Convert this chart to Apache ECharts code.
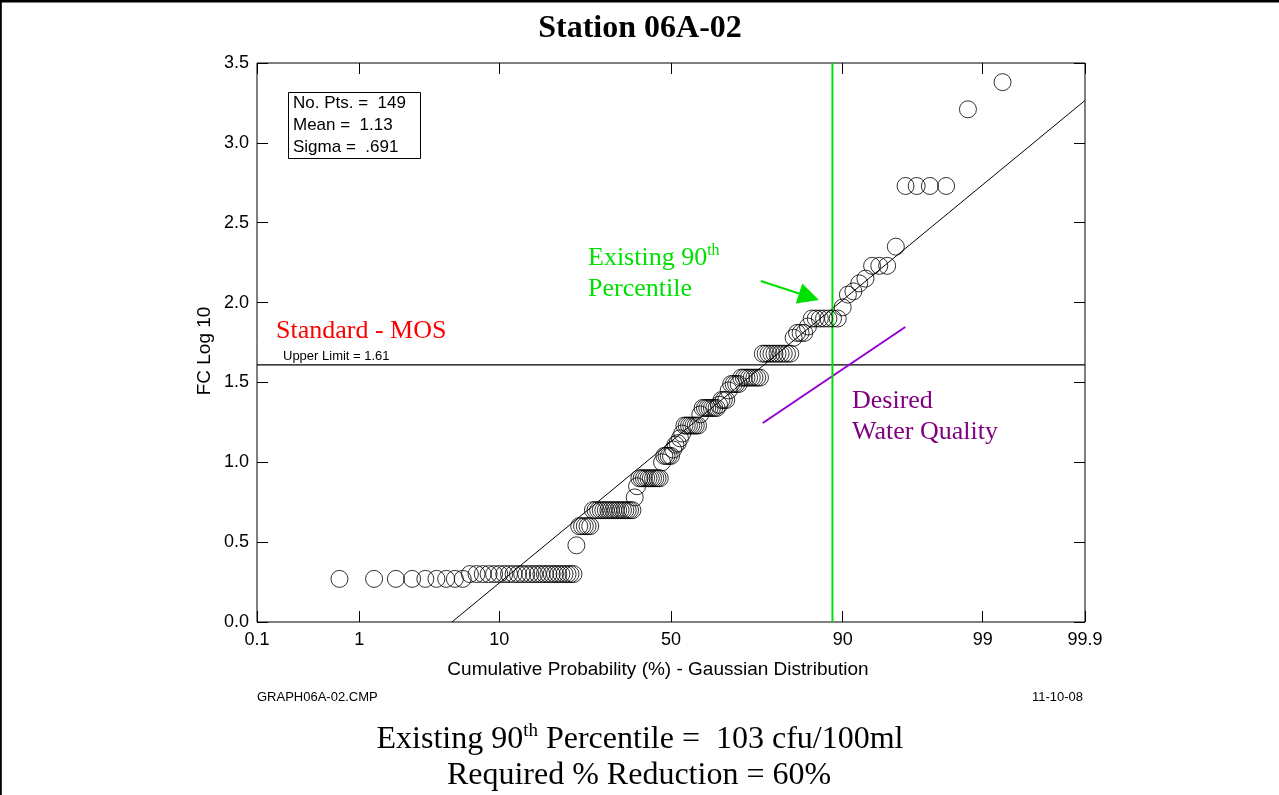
<!DOCTYPE html>
<html>
<head>
<meta charset="utf-8">
<title>Station 06A-02</title>
<script src="https://cdn.jsdelivr.net/npm/echarts/dist/echarts.min.js"></script>
<style>
  html, body { margin: 0; padding: 0; background: #fff; }
  #chart { width: 1279px; height: 795px; }
</style>
</head>
<body>
<div id="chart"></div>
<script>
// Sorted fecal coliform results (log10 cfu/100ml), Station 06A-02
const fcLog10 = [
  0.27, 0.27, 0.27, 0.27, 0.27, 0.27, 0.27, 0.27, 0.27,
  0.30, 0.30, 0.30, 0.30, 0.30, 0.30, 0.30, 0.30, 0.30, 0.30,
  0.30, 0.30, 0.30, 0.30, 0.30, 0.30, 0.30, 0.30, 0.30, 0.30,
  0.30, 0.30, 0.30, 0.30, 0.30, 0.30,
  0.48,
  0.60, 0.60, 0.60, 0.60, 0.60,
  0.70, 0.70, 0.70, 0.70, 0.70, 0.70, 0.70, 0.70, 0.70, 0.70,
  0.70, 0.70, 0.70, 0.70, 0.70, 0.70, 0.70,
  0.78, 0.85,
  0.90, 0.90, 0.90, 0.90, 0.90, 0.90, 0.90, 0.90, 0.90, 0.90,
  1.00, 1.04, 1.04, 1.04, 1.04, 1.08, 1.11, 1.12, 1.15, 1.18,
  1.23, 1.23, 1.23, 1.23, 1.23, 1.23, 1.23,
  1.30, 1.34, 1.34, 1.34, 1.34, 1.34, 1.34, 1.34, 1.36,
  1.39, 1.39, 1.39, 1.45, 1.49, 1.49, 1.49, 1.49,
  1.53, 1.53, 1.53, 1.53, 1.53, 1.53, 1.53, 1.53,
  1.68, 1.68, 1.68, 1.68, 1.68, 1.68, 1.68, 1.68, 1.68, 1.68,
  1.78, 1.81, 1.81, 1.81, 1.85,
  1.90, 1.90, 1.90, 1.90, 1.90, 1.90, 1.90,
  1.97, 2.05, 2.07, 2.12, 2.15,
  2.23, 2.23, 2.23, 2.35,
  2.73, 2.73, 2.73, 2.73,
  3.21, 3.38
];

// Probability axis ticks (cumulative %)
const probTicks = [0.1, 1, 10, 50, 90, 99, 99.9];
const probTickLabels = ['0.1', '1', '10', '50', '90', '99', '99.9'];

// Log axis range
const yMin = 0, yMax = 3.5, yStep = 0.5;

// Summary statistics and limits
const meanLog = 1.13;
const sigmaLog = 0.691;
const upperLimit = 1.61;

// Existing 90th percentile marker (standard normal units)
const existingZ = 1.205;
// Desired water quality line, [z, log10] end points
const desiredLine = [[0.685, 1.246], [1.749, 1.847]];
// Pointer to the existing percentile, [z, log10]
const arrowFrom = [0.670, 2.135];
const arrowTo = [1.030, 2.036];

// Inverse standard normal CDF (Acklam's rational approximation)
function normInv(p) {
  const a = [-3.969683028665376e+01, 2.209460984245205e+02, -2.759285104469687e+02,
             1.383577518672690e+02, -3.066479806614716e+01, 2.506628277459239e+00];
  const b = [-5.447609879822406e+01, 1.615858368580409e+02, -1.556989798598866e+02,
             6.680131188771972e+01, -1.328068155288572e+01];
  const c = [-7.784894002430293e-03, -3.223964580411365e-01, -2.400758277161838e+00,
             -2.549732539343734e+00, 4.374664141464968e+00, 2.938163982698783e+00];
  const d = [7.784695709041462e-03, 3.224671290700398e-01, 2.445134137142996e+00,
             3.754408661907416e+00];
  const pl = 0.02425, ph = 1 - pl;
  let q, r;
  if (p < pl) {
    q = Math.sqrt(-2 * Math.log(p));
    return (((((c[0]*q + c[1])*q + c[2])*q + c[3])*q + c[4])*q + c[5]) /
           ((((d[0]*q + d[1])*q + d[2])*q + d[3])*q + 1);
  }
  if (p <= ph) {
    q = p - 0.5; r = q * q;
    return (((((a[0]*r + a[1])*r + a[2])*r + a[3])*r + a[4])*r + a[5]) * q /
           (((((b[0]*r + b[1])*r + b[2])*r + b[3])*r + b[4])*r + 1);
  }
  q = Math.sqrt(-2 * Math.log(1 - p));
  return -(((((c[0]*q + c[1])*q + c[2])*q + c[3])*q + c[4])*q + c[5]) /
          ((((d[0]*q + d[1])*q + d[2])*q + d[3])*q + 1);
}

const tickZ = probTicks.map(p => (p === 50 ? 0 : normInv(p / 100)));
const zMin = tickZ[0], zMax = tickZ[tickZ.length - 1];

// Plotting positions: rank / (n + 1) on the Gaussian scale
const nPts = fcLog10.length;
const points = fcLog10.map((v, i) => [normInv((i + 1) / (nPts + 1)), v]);

// Fitted normal line: log10 = mean + sigma * z
const fitStart = -meanLog / sigmaLog;
const fitLine = [[fitStart, meanLog + sigmaLog * fitStart], [zMax, meanLog + sigmaLog * zMax]];

function probLabel(v) {
  let best = 0;
  for (let i = 1; i < tickZ.length; i++) {
    if (Math.abs(v - tickZ[i]) < Math.abs(v - tickZ[best])) best = i;
  }
  return probTickLabels[best];
}

const SANS = '"Liberation Sans", Arial, sans-serif';
const SERIF = '"Liberation Serif", "Times New Roman", serif';
const GREEN = '#00e000';
const PURPLE_LINE = '#9400d3';
const PURPLE_TEXT = '#800080';

const chart = echarts.init(document.getElementById('chart'), null, { renderer: 'canvas' });

const tickStyle = { color: '#000', width: 1 };
const hiddenLine = { show: false, onZero: false };

chart.setOption({
  animation: false,
  backgroundColor: '#fff',
  grid: {
    left: 257, top: 63, width: 828, height: 559,
    show: true, borderColor: '#000', borderWidth: 1, backgroundColor: 'transparent'
  },
  xAxis: [
    {
      type: 'value', position: 'bottom', min: zMin, max: zMax,
      axisLine: hiddenLine, splitLine: { show: false },
      axisTick: { show: true, inside: true, length: 11, customValues: tickZ, lineStyle: tickStyle },
      axisLabel: {
        show: true, customValues: tickZ, formatter: probLabel, margin: 9,
        color: '#000', fontSize: 18, fontFamily: SANS
      }
    },
    {
      type: 'value', position: 'top', min: zMin, max: zMax,
      axisLine: hiddenLine, splitLine: { show: false },
      axisTick: { show: true, inside: true, length: 11, customValues: tickZ, lineStyle: tickStyle },
      axisLabel: { show: false }
    }
  ],
  yAxis: [
    {
      type: 'value', position: 'left', min: yMin, max: yMax, interval: yStep,
      axisLine: hiddenLine, splitLine: { show: false },
      axisTick: { show: true, inside: true, length: 11, lineStyle: tickStyle },
      axisLabel: {
        show: true, margin: 8, color: '#000', fontSize: 18, fontFamily: SANS,
        formatter: v => v.toFixed(1)
      }
    },
    {
      type: 'value', position: 'right', min: yMin, max: yMax, interval: yStep,
      axisLine: hiddenLine, splitLine: { show: false },
      axisTick: { show: true, inside: true, length: 11, lineStyle: tickStyle },
      axisLabel: { show: false }
    }
  ],
  series: [
    {
      name: 'Fitted normal', type: 'line', data: fitLine, symbol: 'none', silent: true,
      lineStyle: { color: '#000', width: 1 }, z: 2
    },
    {
      name: 'Upper Limit', type: 'line', data: [[zMin, upperLimit], [zMax, upperLimit]],
      symbol: 'none', silent: true, lineStyle: { color: '#000', width: 1.2 }, z: 2
    },
    {
      name: 'Desired Water Quality', type: 'line', data: desiredLine, symbol: 'none', silent: true,
      lineStyle: { color: PURPLE_LINE, width: 2 }, z: 3
    },
    {
      name: 'Existing 90th Percentile', type: 'line', data: [[existingZ, yMin], [existingZ, yMax]],
      symbol: 'none', silent: true, lineStyle: { color: GREEN, width: 2 }, z: 3,
      markLine: {
        silent: true, animation: false,
        label: { show: false },
        lineStyle: { color: GREEN, width: 2, type: 'solid' },
        data: [[
          { coord: arrowFrom, symbol: 'none' },
          { coord: arrowTo, symbol: 'triangle', symbolSize: 21 }
        ]]
      }
    },
    {
      name: 'FC', type: 'scatter', data: points, symbol: 'circle', symbolSize: 17,
      itemStyle: { color: 'rgba(255,255,255,0)', borderColor: '#000', borderWidth: 1 },
      silent: true, z: 4
    }
  ],
  graphic: [
    // page frame
    { type: 'rect', shape: { x: 0, y: 0, width: 1279, height: 2.5 }, style: { fill: '#000' }, silent: true },
    { type: 'rect', shape: { x: 0, y: 0, width: 1.8, height: 795 }, style: { fill: '#000' }, silent: true },
    {
      type: 'text', x: 640, y: 29,
      style: { text: 'Station 06A-02', font: 'bold 32px ' + SERIF, fill: '#000', textAlign: 'center', textVerticalAlign: 'middle' }
    },
    // statistics box
    {
      type: 'rect', shape: { x: 288.5, y: 92.5, width: 132, height: 66 },
      style: { fill: '#fff', stroke: '#000', lineWidth: 1 }, z: 10
    },
    {
      type: 'text', x: 293, y: 92, z: 11,
      style: {
        text: 'No. Pts. =  149\nMean =  1.13\nSigma =  .691',
        font: '17px ' + SANS, lineHeight: 22, fill: '#000', textAlign: 'left', textVerticalAlign: 'top'
      }
    },
    // axis titles
    {
      type: 'text', x: 205, y: 351, rotation: Math.PI / 2,
      style: { text: 'FC Log 10', font: '19px ' + SANS, fill: '#000', textAlign: 'center', textVerticalAlign: 'middle' }
    },
    {
      type: 'text', x: 658, y: 670,
      style: { text: 'Cumulative Probability (%) - Gaussian Distribution', font: '19px ' + SANS, fill: '#000', textAlign: 'center', textVerticalAlign: 'middle' }
    },
    // limit annotation
    {
      type: 'text', x: 276, y: 331,
      style: { text: 'Standard - MOS', font: '26px ' + SERIF, fill: '#ff0000', textAlign: 'left', textVerticalAlign: 'middle' }
    },
    {
      type: 'text', x: 283, y: 356,
      style: { text: 'Upper Limit = 1.61', font: '13px ' + SANS, fill: '#000', textAlign: 'left', textVerticalAlign: 'middle' }
    },
    // existing percentile annotation
    {
      type: 'text', x: 588, y: 243,
      style: {
        text: '{a|Existing 90}{s|th}\n{a|Percentile}',
        textAlign: 'left', textVerticalAlign: 'top',
        rich: {
          a: { font: '26px ' + SERIF, fill: GREEN, lineHeight: 31 },
          s: { font: '16px ' + SERIF, fill: GREEN, lineHeight: 22, verticalAlign: 'top' }
        }
      }
    },
    // desired water quality annotation
    {
      type: 'text', x: 852, y: 386,
      style: {
        text: 'Desired\nWater Quality', font: '26px ' + SERIF, fill: PURPLE_TEXT,
        lineHeight: 31, textAlign: 'left', textVerticalAlign: 'top'
      }
    },
    // footer
    {
      type: 'text', x: 257, y: 697,
      style: { text: 'GRAPH06A-02.CMP', font: '13px ' + SANS, fill: '#000', textAlign: 'left', textVerticalAlign: 'middle' }
    },
    {
      type: 'text', x: 1083, y: 697,
      style: { text: '11-10-08', font: '13px ' + SANS, fill: '#000', textAlign: 'right', textVerticalAlign: 'middle' }
    },
    {
      type: 'text', x: 640, y: 740,
      style: {
        text: '{a|Existing 90}{s|th}{a| Percentile =  103 cfu/100ml}',
        textAlign: 'center', textVerticalAlign: 'middle',
        rich: {
          a: { font: '32px ' + SERIF, fill: '#000', lineHeight: 36 },
          s: { font: '19px ' + SERIF, fill: '#000', lineHeight: 26, verticalAlign: 'top' }
        }
      }
    },
    {
      type: 'text', x: 639, y: 776,
      style: { text: 'Required % Reduction = 60%', font: '32px ' + SERIF, fill: '#000', textAlign: 'center', textVerticalAlign: 'middle' }
    }
  ]
});
</script>
</body>
</html>
